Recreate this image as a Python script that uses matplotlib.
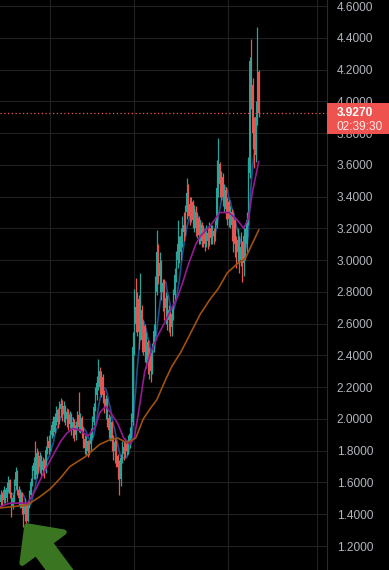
import numpy as np
import pandas as pd
import matplotlib
matplotlib.use('Agg')
import matplotlib.pyplot as plt
from matplotlib.patches import Rectangle, FancyArrow
from matplotlib.transforms import blended_transform_factory, Affine2D

plt.rcParams['font.family'] = ['Liberation Sans', 'DejaVu Sans']

# candle data
closes = [1.52, 1.49, 1.55, 1.50, 1.56, 1.61, 1.53, 1.45, 1.50, 1.58,
          1.66, 1.55, 1.50, 1.53, 1.44, 1.40, 1.46, 1.36, 1.46, 1.52,
          1.60, 1.67, 1.72, 1.65, 1.78, 1.70, 1.76, 1.68, 1.73, 1.67,
          1.80, 1.86, 1.82, 1.90, 1.96, 1.92, 2.01, 2.05, 1.98, 2.06,
          2.09, 2.03, 2.08, 2.00, 2.04, 1.97, 2.02, 1.93, 1.98, 1.90,
          1.96, 2.02, 1.95, 2.00, 1.92, 1.87, 1.82, 1.86, 1.80, 1.84,
          1.90, 1.98, 2.07, 2.15, 2.22, 2.30, 2.20, 2.26, 2.15, 2.08,
          2.12, 2.00, 1.93, 1.98, 1.86, 1.80, 1.85, 1.76, 1.70, 1.62,
          1.75, 1.82, 1.78, 1.84, 1.80, 1.86, 1.90, 1.98, 2.45, 2.70,
          2.60, 2.75, 2.55, 2.68, 2.50, 2.58, 2.42, 2.48, 2.35, 2.40,
          2.30, 2.45, 2.55, 2.80, 3.05, 2.90, 2.98, 2.80, 2.85, 2.70,
          2.76, 2.62, 2.68, 2.58, 2.66, 2.78, 2.90, 3.00, 3.10, 3.05,
          3.15, 3.22, 3.18, 3.30, 3.42, 3.35, 3.28, 3.36, 3.25, 3.30,
          3.20, 3.26, 3.16, 3.22, 3.12, 3.18, 3.10, 3.17, 3.12, 3.20,
          3.14, 3.18, 3.15, 3.22, 3.45, 3.60, 3.48, 3.52, 3.40, 3.44,
          3.32, 3.36, 3.26, 3.30, 3.22, 3.25, 3.10, 3.05, 3.12, 3.00,
          3.08, 2.98, 3.15, 3.10, 3.25, 3.55, 4.25, 4.10, 3.80, 3.66,
          3.90, 4.18, 3.927]
highs = [1.55, 1.54, 1.58, 1.56, 1.60, 1.64, 1.62, 1.54, 1.53, 1.62,
         1.70, 1.68, 1.58, 1.56, 1.54, 1.47, 1.50, 1.47, 1.49, 1.55,
         1.63, 1.71, 1.76, 1.86, 1.82, 1.80, 1.79, 1.77, 1.76, 1.75,
         1.83, 1.89, 1.90, 1.93, 1.99, 2.02, 2.04, 2.08, 2.07, 2.11,
         2.13, 2.12, 2.11, 2.09, 2.07, 2.06, 2.05, 2.04, 2.01, 2.00,
         1.99, 2.05, 2.17, 2.04, 2.02, 1.95, 1.90, 1.89, 1.87, 1.87,
         1.94, 2.02, 2.10, 2.20, 2.27, 2.38, 2.33, 2.30, 2.28, 2.18,
         2.15, 2.13, 2.03, 2.02, 1.99, 1.90, 1.88, 1.87, 1.78, 1.74,
         1.78, 1.86, 1.86, 1.88, 1.87, 1.90, 1.95, 2.04, 2.55, 2.82,
         2.89, 2.80, 2.78, 2.92, 2.72, 2.62, 2.60, 2.55, 2.50, 2.45,
         2.42, 2.48, 2.60, 2.90, 3.19, 3.10, 3.05, 3.00, 2.88, 2.88,
         2.80, 2.78, 2.72, 2.70, 2.70, 2.82, 2.95, 3.06, 3.25, 3.15,
         3.20, 3.28, 3.30, 3.35, 3.52, 3.48, 3.40, 3.40, 3.38, 3.35,
         3.34, 3.30, 3.28, 3.25, 3.24, 3.22, 3.20, 3.22, 3.20, 3.24,
         3.22, 3.22, 3.20, 3.25, 3.63, 3.77, 3.62, 3.56, 3.55, 3.48,
         3.46, 3.40, 3.38, 3.34, 3.32, 3.30, 3.26, 3.15, 3.20, 3.15,
         3.18, 3.12, 3.22, 3.20, 3.30, 3.65, 4.28, 4.39, 4.15, 3.90,
         4.00, 4.47, 4.20]
lows = [1.45, 1.46, 1.47, 1.47, 1.48, 1.54, 1.50, 1.38, 1.43, 1.48,
        1.56, 1.52, 1.46, 1.44, 1.40, 1.32, 1.36, 1.27, 1.35, 1.44,
        1.50, 1.58, 1.62, 1.62, 1.63, 1.66, 1.66, 1.64, 1.65, 1.63,
        1.66, 1.78, 1.78, 1.80, 1.88, 1.89, 1.91, 1.96, 1.94, 1.97,
        2.01, 1.99, 1.98, 1.96, 1.95, 1.93, 1.94, 1.90, 1.88, 1.86,
        1.87, 1.93, 1.92, 1.91, 1.88, 1.82, 1.78, 1.77, 1.76, 1.77,
        1.80, 1.88, 1.96, 2.05, 2.12, 2.18, 2.16, 2.14, 2.10, 2.04,
        2.00, 1.95, 1.88, 1.86, 1.80, 1.74, 1.72, 1.70, 1.62, 1.52,
        1.58, 1.72, 1.74, 1.76, 1.77, 1.78, 1.82, 1.88, 1.96, 2.40,
        2.55, 2.52, 2.44, 2.50, 2.42, 2.40, 2.36, 2.32, 2.28, 2.25,
        2.23, 2.28, 2.42, 2.52, 2.78, 2.85, 2.80, 2.75, 2.68, 2.62,
        2.60, 2.56, 2.55, 2.52, 2.52, 2.62, 2.75, 2.86, 2.95, 2.98,
        3.00, 3.08, 3.12, 3.15, 3.26, 3.28, 3.22, 3.24, 3.20, 3.18,
        3.15, 3.14, 3.10, 3.10, 3.08, 3.08, 3.06, 3.08, 3.07, 3.09,
        3.10, 3.10, 3.10, 3.12, 3.20, 3.40, 3.40, 3.38, 3.34, 3.30,
        3.26, 3.22, 3.21, 3.20, 3.12, 3.05, 3.02, 2.95, 2.98, 2.92,
        2.96, 2.86, 2.90, 3.00, 3.05, 3.22, 3.52, 3.95, 3.70, 3.58,
        3.62, 3.85, 3.90]
first_open = 1.48

# slower moving averages at some candle positions
purple_idx = [0, 6, 13, 18, 23, 28, 33, 40, 44, 48, 53, 58, 63, 66, 70, 74, 78, 82,
              86, 89, 92, 96, 100, 105, 110, 113, 118, 122, 125, 130, 133, 140, 146,
              152, 157, 162, 165, 168, 172]
purple_val = [1.45, 1.47, 1.47, 1.47, 1.55, 1.65, 1.74, 1.86, 1.91, 1.94, 1.93, 1.89,
              1.95, 2.04, 2.08, 2.03, 1.97, 1.88, 1.84, 1.88, 2.05, 2.30, 2.42, 2.53,
              2.62, 2.68, 2.77, 2.88, 2.97, 3.10, 3.15, 3.22, 3.30, 3.30, 3.26, 3.20,
              3.26, 3.44, 3.62]
orange_idx = [0, 10, 18, 26, 33, 40, 46, 56, 66, 73, 78, 84, 90, 95, 100, 104, 110,
              114, 120, 126, 133, 140, 145, 151, 158, 163, 166, 172]
orange_val = [1.44, 1.45, 1.46, 1.51, 1.56, 1.63, 1.70, 1.76, 1.84, 1.87, 1.88, 1.85,
              1.88, 2.00, 2.07, 2.12, 2.25, 2.33, 2.42, 2.53, 2.66, 2.76, 2.82, 2.92,
              2.98, 3.01, 3.07, 3.19]
last_price = 3.927
y_ticks = [1.2, 1.4, 1.6, 1.8, 2.0, 2.2, 2.4, 2.6, 2.8, 3.0, 3.2, 3.4, 3.6, 3.8,
           4.0, 4.2, 4.4, 4.6]

UP = '#26a69a'
DOWN = '#ef5350'
BG = '#000000'

opens = np.array([first_open] + closes[:-1])
closes_a = np.array(closes)
highs_a = np.maximum(np.array(highs), np.maximum(opens, closes_a))
lows_a = np.minimum(np.array(lows), np.minimum(opens, closes_a))
idx = np.arange(len(closes))
colors = np.where(closes_a >= opens, UP, DOWN)
ma_fast = pd.Series(closes).rolling(7, min_periods=1).mean()

fig = plt.figure(figsize=(3.89, 5.70), dpi=100, facecolor=BG)
ax = fig.add_axes([0, 0, 327 / 389, 1])
ax.set_facecolor(BG)

# fast MA sits mostly behind the candles
ax.plot(idx, ma_fast, color='#1b4f8c', lw=1.2, zorder=2.8)

ax.vlines(idx, lows_a, highs_a, colors=colors, lw=0.9, zorder=3)
ax.bar(idx, np.abs(closes_a - opens) + 0.004, bottom=np.minimum(opens, closes_a),
       width=0.95, color=colors, linewidth=0, zorder=3)

ax.plot(purple_idx, purple_val, color='#951a93', lw=1.2, zorder=4)
ax.plot(orange_idx, orange_val, color='#a0500f', lw=1.2, zorder=4)

ax.axhline(last_price, color=DOWN, lw=0.9, ls=(0, (1, 2)), zorder=5)

ax.set_xlim(-0.5, -0.5 + 327 / 1.5)
ax.set_ylim(1.049, 4.638)
ax.set_yticks(y_ticks)
ax.set_yticklabels([f'{v:.4f}' for v in y_ticks])
ax.set_xticks([33, 89, 151.5, 211])
ax.set_xticklabels([])
ax.yaxis.tick_right()
ax.tick_params(axis='y', length=0, pad=7, labelcolor='#b2b5be', labelsize=8.6)
ax.tick_params(axis='x', length=0)
ax.grid(True, color='#202020', lw=0.8)
ax.set_axisbelow(True)
for s in ['top', 'left', 'bottom']:
    ax.spines[s].set_visible(False)
ax.spines['right'].set_color('#2a2a2a')

# last price label on the axis
bt = blended_transform_factory(ax.transAxes, ax.transData)
ax.add_patch(Rectangle((1.0, last_price - 0.133), 389 / 327 - 1.0, 0.196,
                       transform=bt, facecolor=DOWN, edgecolor='none',
                       clip_on=False, zorder=10))
ax.text(1.03, last_price, f'{last_price:.4f}', transform=bt, color='white',
        fontsize=8.6, fontweight='bold', va='center', ha='left', zorder=11)
ax.text(1.03, last_price - 0.088, '02:39:30', transform=bt, color='#fde8e8',
        fontsize=8.6, va='center', ha='left', zorder=11)

# green arrow, bottom left
px = Affine2D().scale(1 / 389, 1 / 570) + fig.transFigure
arrow = FancyArrow(64, -6, -37, 50, width=17, head_width=52, head_length=27,
                   length_includes_head=True, transform=px,
                   facecolor='#3a7622', edgecolor='#3a7622', lw=4,
                   joinstyle='round', zorder=20)
fig.add_artist(arrow)

fig.savefig('out.png', dpi=100, facecolor=BG)
